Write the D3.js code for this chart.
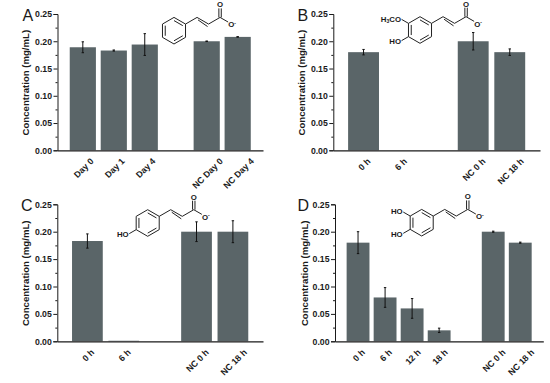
<!DOCTYPE html>
<html>
	<head>
		<meta charset="UTF-8" />
		<title>Concentration panels</title>
		<script src="https://cdn.jsdelivr.net/npm/d3@7"></script>
		<style>
			html, body { margin: 0; padding: 0; background: #fff; }
			svg { display: block; }
			text { font-family: "Liberation Sans", Arial, sans-serif; fill: #1a1a1a; }
		</style>
	</head>
	<body>
		<svg width="550" height="383"></svg>

		<script>
			// values, "" = empty slot on the axis
			const catsA = ["Day 0", "Day 1", "Day 4", "", "NC Day 0", "NC Day 4"];
			const valsA = [0.189, 0.183, 0.194, null, 0.2, 0.208];
			const errsA = [0.01, 0.001, 0.02, null, 0.0005, 0.0005];

			const catsB = ["0 h", "6 h", "", "NC 0 h", "NC 18 h"];
			const valsB = [0.18, 0, null, 0.2, 0.18];
			const errsB = [0.005, 0, null, 0.016, 0.006];

			const catsC = ["0 h", "6 h", "", "NC 0 h", "NC 18 h"];
			const valsC = [0.183, 0.001, null, 0.2, 0.2];
			const errsC = [0.013, 0, null, 0.018, 0.02];

			const catsD = ["0 h", "6 h", "12 h", "18 h", "", "NC 0 h", "NC 18 h"];
			const valsD = [0.18, 0.08, 0.06, 0.02, null, 0.2, 0.18];
			const errsD = [0.02, 0.018, 0.018, 0.004, null, 0.001, 0.001];

			const yMajor = [0, 0.05, 0.1, 0.15, 0.2, 0.25];
			const yMinor = [0.025, 0.075, 0.125, 0.175, 0.225];
			const yTitle = "Concentration (mg/mL)";

			const svg = d3.select("svg");
			const barColor = "#5a6568";
			const ink = "#1a1a1a";
			const xFont = 8.8;

			function panel(p) {
				const x = d3
					.scaleBand()
					.domain(p.cats.map((c, i) => i))
					.range([p.left, p.right])
					.paddingInner(0.155)
					.paddingOuter(p.outer);
				const y = d3.scaleLinear().domain([0, 0.25]).range([p.bottom, p.top]);
				const g = svg.append("g");

				const rows = p.cats
					.map((c, i) => ({ i: i, v: p.vals[i], e: p.errs[i] }))
					.filter((d) => d.v > 0);

				// Add bars
				g.selectAll("rect.bar")
					.data(rows)
					.enter()
					.append("rect")
					.attr("class", "bar")
					.attr("x", (d) => x(d.i))
					.attr("y", (d) => y(d.v))
					.attr("width", x.bandwidth())
					.attr("height", (d) => y(0) - y(d.v))
					.attr("fill", barColor);

				// Add error bars
				const errs = g.selectAll("g.err").data(rows.filter((d) => d.e > 0)).enter().append("g");
				const mid = (d) => x(d.i) + x.bandwidth() / 2;
				errs.append("line")
					.attr("x1", mid)
					.attr("x2", mid)
					.attr("y1", (d) => y(d.v - d.e))
					.attr("y2", (d) => y(d.v + d.e))
					.attr("stroke", "#111")
					.attr("stroke-width", 1);
				[-1, 1].forEach((s) => {
					errs.append("line")
						.attr("x1", (d) => mid(d) - 1.2)
						.attr("x2", (d) => mid(d) + 1.2)
						.attr("y1", (d) => y(d.v + s * d.e))
						.attr("y2", (d) => y(d.v + s * d.e))
						.attr("stroke", "#111")
						.attr("stroke-width", 1);
				});

				// Y axis, major + minor
				const yAxis = g.append("g")
					.attr("transform", `translate(${p.left},0)`)
					.call(d3.axisLeft(y).tickValues(yMajor).tickFormat(d3.format(".2f")).tickSize(4).tickPadding(1.5));
				yAxis.selectAll("text").style("font-size", "8.7px").style("font-weight", "bold");
				const yAxisMinor = g.append("g")
					.attr("transform", `translate(${p.left},0)`)
					.call(d3.axisLeft(y).tickValues(yMinor).tickFormat("").tickSize(2));
				yAxisMinor.select(".domain").remove();
				g.selectAll("line, path.domain").filter(function () {
					return this.parentNode.getAttribute("class") === "tick" || this.getAttribute("class") === "domain";
				}).attr("stroke", ink);

				// X axis, no tick marks. Labels hang from the axis, centred on the bar
				const xAxis = g.append("g")
					.attr("transform", `translate(0,${p.bottom})`)
					.call(d3.axisBottom(x).tickValues(p.cats.map((c, i) => i).filter((i) => p.cats[i] !== ""))
						.tickFormat((i) => p.cats[i]).tickSize(0).tickSizeOuter(0));
				xAxis.select(".domain").attr("stroke", ink).attr("stroke-width", 1.2);
				xAxis.selectAll("text")
					.attr("text-anchor", "middle")
					.attr("dy", "0.32em")
					.attr("y", 0)
					.style("font-size", xFont + "px")
					.style("font-weight", "bold")
					.attr("transform", function () {
						const half = ((this.getComputedTextLength() + xFont) * Math.SQRT1_2) / 2;
						return `translate(1,${6.5 + half}) rotate(-45)`;
					});

				// Titles
				g.append("text")
					.text(yTitle)
					.attr("transform", `translate(${p.titleX},${(p.top + p.bottom) / 2 + 0.5}) rotate(-90)`)
					.attr("text-anchor", "middle")
					.style("font-size", "9.6px")
					.style("font-weight", "bold");
				g.append("text")
					.text(p.letter)
					.attr("x", p.letterX)
					.attr("y", p.letterY)
					.style("font-size", "16px");

				molecule(g, p.mol);
			}

			// Skeletal formula, drawn from a hexagon and a side chain
			function molecule(g, m) {
				const r = 13.3;
				const dx = r * Math.cos(Math.PI / 6);
				const dy = r / 2;
				const hex = d3.range(6).map((k) => {
					const a = (k * Math.PI) / 3 - Math.PI / 2;
					return [m.cx + r * Math.cos(a), m.cy + r * Math.sin(a)];
				});
				const line = d3.line();
				const bond = (pts, w) =>
					g.append("path").attr("d", line(pts)).attr("fill", "none")
						.attr("stroke", "#222").attr("stroke-width", w || 1).attr("stroke-linejoin", "round");
				bond(hex.concat([hex[0]]));

				// inner ring bonds
				[[0, 1], [2, 3], [4, 5]].forEach((b) => {
					const inner = b.map((k) => [m.cx + (hex[k][0] - m.cx) * 0.76, m.cy + (hex[k][1] - m.cy) * 0.76]);
					bond(inner);
				});

				// chain to the carboxylate
				const a = hex[1];
				const c1 = [a[0] + dx, a[1] - dy];
				const c2 = [c1[0] + dx, c1[1] + dy];
				const c3 = [c2[0] + dx, c2[1] - dy];
				bond([a, c1, c2, c3]);
				bond([[c1[0] + 1, c1[1] + 2.5], [c2[0] - 1, c2[1] + 2.5]]);
				bond([[c3[0] - 1.2, c3[1]], [c3[0] - 1.2, c3[1] - 9]]);
				bond([[c3[0] + 1.2, c3[1]], [c3[0] + 1.2, c3[1] - 9]]);
				bond([c3, [c3[0] + dx * 0.7, c3[1] + dy * 0.7]]);

				const label = (t, x, y, anchor) =>
					g.append("text").attr("x", x).attr("y", y).attr("text-anchor", anchor || "middle")
						.style("font-size", "7.8px").style("font-weight", "bold").text(t);
				label("O", c3[0], c3[1] - 10);
				const oMinus = label("O", c3[0] + dx * 1.05, c3[1] + dy + 3.2);
				oMinus.append("tspan").attr("dy", -2.5).style("font-size", "5px").text("-");

				// substituents on the left of the ring
				m.subs.forEach((s) => {
					const v = hex[s.at];
					const up = s.at === 5 ? -1 : 1;
					bond([v, [v[0] - dx * 0.6, v[1] + up * dy * 0.6]]);
					const t = label("", v[0] - dx * 0.65, v[1] + up * dy * 0.7 + 3, "end");
					s.text.forEach((part) => {
						t.append("tspan")
							.attr("dy", part.sub ? 1.5 : part.after ? -1.5 : 0)
							.style("font-size", part.sub ? "5px" : "7.8px")
							.text(part.t);
					});
				});
			}

			const hoText = [{ t: "HO" }];
			const meoText = [{ t: "H" }, { t: "3", sub: true }, { t: "CO", after: true }];

			panel({
				letter: "A", letterX: 22.5, letterY: 21, titleX: 29,
				cats: catsA, vals: valsA, errs: errsA,
				left: 57.5, right: 263, outer: 0.395, top: 14, bottom: 150.3,
				mol: { cx: 174, cy: 30.7, subs: [] },
			});
			panel({
				letter: "B", letterX: 297.5, letterY: 21, titleX: 305,
				cats: catsB, vals: valsB, errs: errsB,
				left: 333.3, right: 540, outer: 0.405, top: 14, bottom: 150.3,
				mol: { cx: 420, cy: 30, subs: [{ at: 5, text: meoText }, { at: 4, text: hoText }] },
			});
			panel({
				letter: "C", letterX: 21, letterY: 211, titleX: 29,
				cats: catsC, vals: valsC, errs: errsC,
				left: 57.3, right: 263, outer: 0.405, top: 204.3, bottom: 341.3,
				mol: { cx: 147.7, cy: 223, subs: [{ at: 4, text: hoText }] },
			});
			panel({
				letter: "D", letterX: 297.5, letterY: 211, titleX: 308,
				cats: catsD, vals: valsD, errs: errsD,
				left: 335, right: 543.3, outer: 0.43, top: 204.3, bottom: 341.3,
				mol: { cx: 421.7, cy: 222.7, subs: [{ at: 5, text: hoText }, { at: 4, text: hoText }] },
			});
		</script>
	</body>
</html>
